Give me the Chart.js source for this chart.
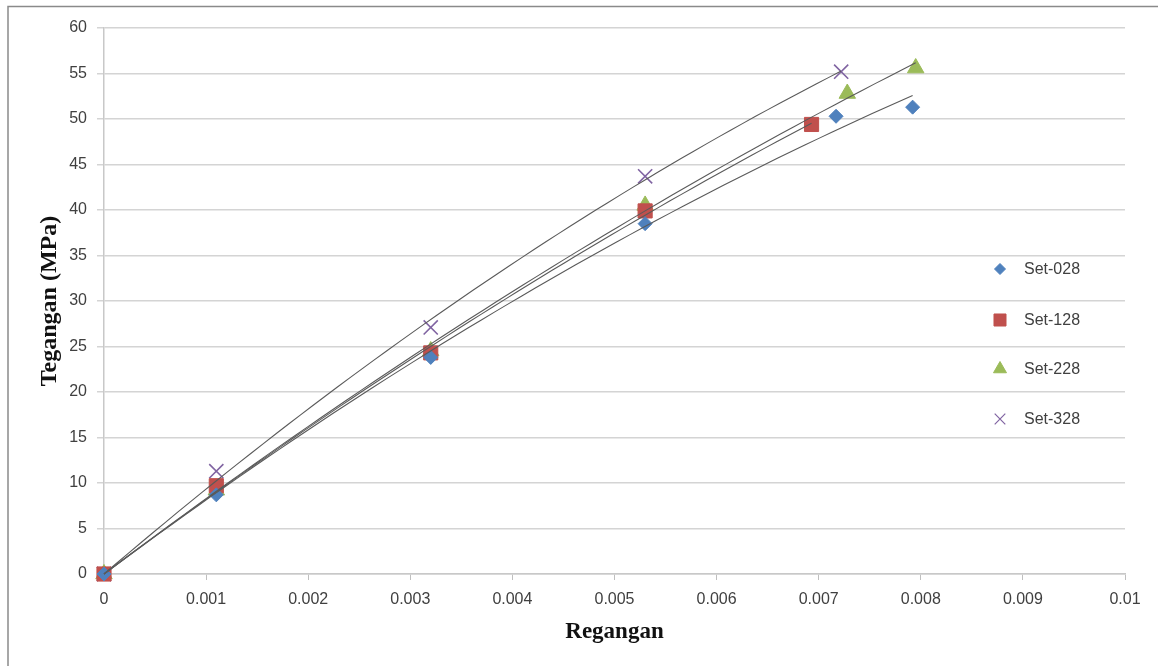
<!DOCTYPE html>
<html>
<head>
<meta charset="utf-8">
<script src="https://cdn.jsdelivr.net/npm/chart.js@4.4.1/dist/chart.umd.min.js"></script>
<style>
  html, body { margin: 0; padding: 0; background: #fff; }
  #wrap { position: relative; width: 1158px; height: 666px; }
  canvas { display: block; }
</style>
</head>
<body>
<div id="wrap"><canvas id="c" width="1158" height="666"></canvas></div>
<script>
// ---- data ----
const seriesNames = ['Set-028', 'Set-128', 'Set-228', 'Set-328'];
const set028X = [0, 0.0011, 0.0032, 0.0053, 0.00717, 0.00792];
const set028Y = [0, 8.7, 23.8, 38.5, 50.3, 51.3];
const set128X = [0, 0.0011, 0.0032, 0.0053, 0.00693];
const set128Y = [0, 9.7, 24.3, 39.9, 49.4];
const set228X = [0, 0.0011, 0.0032, 0.0053, 0.00728, 0.00795];
const set228Y = [0, 9.2, 24.5, 40.5, 52.8, 55.6];
const set328X = [0, 0.0011, 0.0032, 0.0053, 0.00722];
const set328Y = [0, 11.3, 27.1, 43.7, 55.2];
const xTickLabels = ['0', '0.001', '0.002', '0.003', '0.004', '0.005', '0.006', '0.007', '0.008', '0.009', '0.01'];
const yTickLabels = ['0', '5', '10', '15', '20', '25', '30', '35', '40', '45', '50', '55', '60'];

const colors = ['#4F81BD', '#C0504D', '#9BBB59', '#8064A2'];
const styles = ['rectRot', 'rect', 'triangle', 'crossRot'];
const radii = [7, 10, 9.5, 10];
const legendRadii = [5.5, 8.5, 7.5, 7.5];

const xs = [set028X, set128X, set228X, set328X];
const ys = [set028Y, set128Y, set228Y, set328Y];

function toPoints(x, y) { return x.map((v, i) => ({ x: v, y: y[i] })); }

// polynomial (order 2, through origin) least-squares trendline, like the spreadsheet's
function fitQuad(x, y) {
  let s2 = 0, s3 = 0, s4 = 0, sxy = 0, sx2y = 0;
  for (let i = 0; i < x.length; i++) {
    const a = x[i], b = y[i];
    s2 += a * a; s3 += a * a * a; s4 += a * a * a * a;
    sxy += a * b; sx2y += a * a * b;
  }
  const det = s2 * s4 - s3 * s3;
  const p = (sxy * s4 - s3 * sx2y) / det;
  const q = (s2 * sx2y - s3 * sxy) / det;
  return t => p * t + q * t * t;
}
function trend(x, y) {
  const f = fitQuad(x, y);
  const xmax = Math.max(...x);
  const pts = [];
  const n = 60;
  for (let i = 0; i <= n; i++) { const t = xmax * i / n; pts.push({ x: t, y: f(t) }); }
  return pts;
}

const datasets = [];
for (let k = 0; k < 4; k++) {
  datasets.push({
    label: seriesNames[k],
    data: toPoints(xs[k], ys[k]),
    showLine: false,
    pointStyle: styles[k],
    pointRadius: radii[k],
    pointHoverRadius: radii[k],
    backgroundColor: colors[k],
    borderColor: colors[k],
    pointBorderWidth: k === 3 ? 1.6 : 1,
    clip: false,
    order: 2
  });
}
for (let k = 0; k < 4; k++) {
  datasets.push({
    label: seriesNames[k] + ' trend',
    data: trend(xs[k], ys[k]),
    showLine: true,
    pointRadius: 0,
    borderColor: '#5a5a5a',
    borderWidth: 1.1,
    fill: false,
    clip: false,
    order: 1
  });
}

const framePlugin = {
  id: 'frame',
  beforeDraw(chart) {
    const ctx = chart.ctx;
    ctx.save();
    ctx.fillStyle = '#fff';
    ctx.fillRect(0, 0, chart.width, chart.height);
    ctx.strokeStyle = '#8a8a8a';
    ctx.lineWidth = 1.5;
    ctx.beginPath();
    ctx.moveTo(8, chart.height);
    ctx.lineTo(8, 6.5);
    ctx.lineTo(chart.width, 6.5);
    ctx.stroke();
    ctx.restore();
  }
};

const legendPlugin = {
  id: 'sideLegend',
  afterDraw(chart) {
    const ctx = chart.ctx;
    const ys = [269, 320, 369, 419];
    ctx.save();
    ctx.font = '16px "Liberation Sans", Arial, sans-serif';
    ctx.fillStyle = '#404040';
    ctx.textBaseline = 'middle';
    ctx.textAlign = 'left';
    for (let k = 0; k < 4; k++) {
      ctx.fillStyle = colors[k];
      ctx.strokeStyle = colors[k];
      ctx.lineWidth = k === 3 ? 1.2 : 1;
      Chart.helpers.drawPoint(ctx, { pointStyle: styles[k], radius: legendRadii[k], rotation: 0, borderWidth: 1 }, 1000, ys[k]);
      ctx.fillStyle = '#404040';
      ctx.fillText(seriesNames[k], 1024, ys[k] + 1);
    }
    ctx.restore();
  }
};

new Chart(document.getElementById('c'), {
  type: 'scatter',
  data: { datasets },
  plugins: [framePlugin, legendPlugin],
  options: {
    responsive: false,
    animation: false,
    devicePixelRatio: 1,
    layout: { padding: { left: 0, right: 33, top: 28, bottom: 0 } },
    plugins: { legend: { display: false }, tooltip: { enabled: false } },
    scales: {
      x: {
        type: 'linear',
        min: 0, max: 0.01,
        afterFit(s) { s.height = 92; },
        afterBuildTicks(s) { s.ticks = xTickLabels.map((t, i) => ({ value: i * 0.001 })); },
        ticks: {
          callback: (v, i) => xTickLabels[i],
          font: { family: '"Liberation Sans", Arial, sans-serif', size: 16 },
          color: '#404040',
          padding: 10,
          maxRotation: 0,
          autoSkip: false
        },
        grid: { drawOnChartArea: false, drawTicks: true, tickLength: 6, color: '#bfbfbf', lineWidth: 1 },
        border: { display: true, color: '#c8c8c8', width: 1.5 },
        title: {
          display: true,
          text: 'Regangan',
          font: { family: '"Liberation Serif", "Times New Roman", serif', size: 23, weight: 'bold' },
          color: '#111',
          padding: { top: 0, bottom: 20 }
        }
      },
      y: {
        type: 'linear',
        min: 0, max: 60,
        afterFit(s) { s.width = 104; },
        afterBuildTicks(s) { s.ticks = yTickLabels.map((t, i) => ({ value: i * 5 })); },
        ticks: {
          callback: (v, i) => yTickLabels[i],
          font: { family: '"Liberation Sans", Arial, sans-serif', size: 16 },
          color: '#404040',
          padding: 10,
          autoSkip: false
        },
        grid: { drawOnChartArea: true, drawTicks: true, tickLength: 7, color: '#d4d4d4', lineWidth: 1.5 },
        border: { display: true, color: '#c8c8c8', width: 1.5 },
        title: {
          display: true,
          text: 'Tegangan (MPa)',
          font: { family: '"Liberation Serif", "Times New Roman", serif', size: 24, weight: 'bold' },
          color: '#111',
          padding: { top: 35, bottom: 0 }
        }
      }
    }
  }
});
</script>
</body>
</html>
